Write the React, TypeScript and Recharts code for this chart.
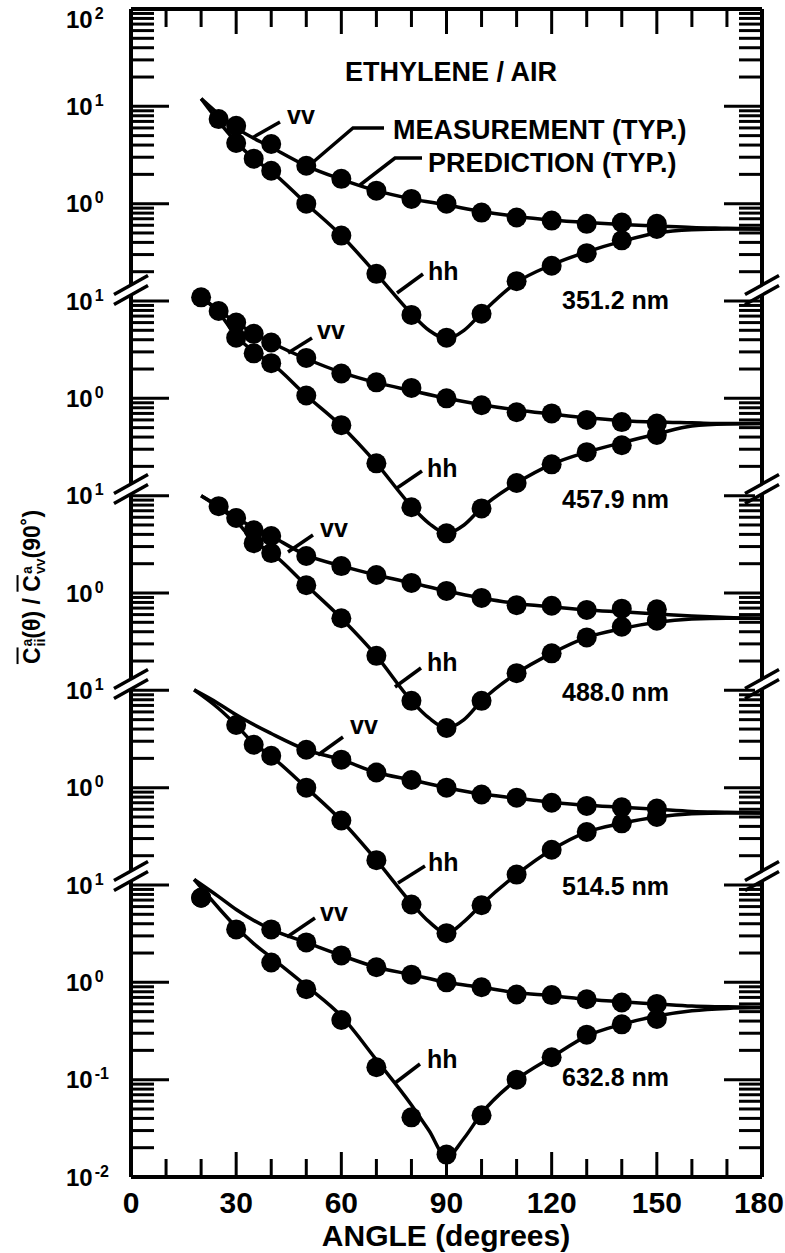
import React from "react";
import { ComposedChart, Line, XAxis, YAxis, ReferenceLine } from "recharts";

const FONT = '"Liberation Sans", Arial, Helvetica, sans-serif';
const W = 785;
const H = 1253;
const LEFT = 131;
const RIGHT = 762;
const TOP = 9;
const BOTTOM = 1177;
const PH = BOTTOM - TOP;
const LOG_MIN = -2;
const LOG_MAX = 10;

// x axis
const X_TICKS = [0, 10, 20, 30, 40, 50, 60, 70, 80, 90, 100, 110, 120, 130, 140, 150, 160, 170, 180];

// y axis: one log axis, every panel shifted two decades, labels relabelled per panel
const DECADE_LABELS = ["-2", "-1", "0", "1", "0", "1", "0", "1", "0", "1", "0", "1", "2"];
const Y_TICKS: number[] = [];
for (let n = LOG_MIN; n < LOG_MAX; n++) {
  for (let k = 1; k <= 9; k++) Y_TICKS.push(Number((k * Math.pow(10, n)).toPrecision(3)));
}
Y_TICKS.push(Math.pow(10, LOG_MAX));

const PANEL_SHIFT = [1e8, 1e6, 1e4, 1e2, 1];
const WAVELENGTHS = ["351.2 nm", "457.9 nm", "488.0 nm", "514.5 nm", "632.8 nm"];

// prediction angle grids
const VV_PRED_ANGLE = [20, 25, 30, 40, 50, 60, 70, 80, 90, 100, 110, 120, 130, 140, 150, 160, 170, 180];
const VV_PRED_ANGLE_B = [18, 25, 30, 40, 50, 60, 70, 80, 90, 100, 110, 120, 130, 140, 150, 160, 170, 180];
const HH_PRED_ANGLE = [20, 25, 30, 35, 40, 50, 60, 70, 80, 85, 90, 95, 100, 110, 120, 130, 140, 150, 160, 170, 180];
const HH_PRED_ANGLE_B = [18, 25, 30, 35, 40, 50, 60, 70, 80, 85, 90, 95, 100, 110, 120, 130, 140, 150, 160, 170, 180];

// 351.2 nm
const P1_VV_PRED = [12, 8.3, 6.0, 3.8, 2.45, 1.78, 1.36, 1.12, 0.97, 0.83, 0.74, 0.68, 0.64, 0.61, 0.59, 0.57, 0.56, 0.55];
const P1_HH_PRED = [12, 7.0, 4.3, 2.9, 2.15, 1.0, 0.47, 0.19, 0.074, 0.05, 0.041, 0.05, 0.075, 0.155, 0.235, 0.32, 0.41, 0.5, 0.54, 0.55, 0.55];
const P1_VV_ANGLE = [25, 30, 40, 50, 60, 70, 80, 90, 100, 110, 120, 130, 140, 150];
const P1_VV = [7.4, 6.3, 4.1, 2.45, 1.8, 1.36, 1.12, 1.0, 0.81, 0.72, 0.67, 0.62, 0.64, 0.62];
const P1_HH_ANGLE = [30, 35, 40, 50, 60, 70, 80, 90, 100, 110, 120, 130, 140, 150];
const P1_HH = [4.2, 2.9, 2.18, 1.0, 0.47, 0.19, 0.072, 0.042, 0.074, 0.16, 0.23, 0.31, 0.42, 0.55];

// 457.9 nm
const P2_VV_PRED = [11, 8.0, 6.0, 3.75, 2.55, 1.85, 1.45, 1.2, 1.0, 0.86, 0.76, 0.69, 0.63, 0.59, 0.57, 0.56, 0.55, 0.55];
const P2_HH_PRED = [11, 7.6, 4.4, 3.0, 2.3, 1.07, 0.52, 0.215, 0.078, 0.052, 0.041, 0.05, 0.075, 0.135, 0.21, 0.28, 0.35, 0.43, 0.52, 0.545, 0.55];
const P2_VV_ANGLE = [20, 25, 30, 35, 40, 50, 60, 70, 80, 90, 100, 110, 120, 130, 140, 150];
const P2_VV = [10.9, 7.9, 6.0, 4.6, 3.75, 2.6, 1.8, 1.46, 1.28, 1.0, 0.85, 0.72, 0.7, 0.6, 0.57, 0.55];
const P2_HH_ANGLE = [30, 35, 40, 50, 60, 70, 80, 90, 100, 110, 120, 130, 140, 150];
const P2_HH = [4.2, 2.9, 2.3, 1.07, 0.53, 0.215, 0.076, 0.041, 0.074, 0.135, 0.21, 0.28, 0.33, 0.42];

// 488.0 nm
const P3_VV_PRED = [10, 7.8, 5.9, 3.85, 2.45, 1.9, 1.53, 1.27, 1.05, 0.89, 0.78, 0.72, 0.67, 0.64, 0.61, 0.58, 0.56, 0.55];
const P3_HH_PRED = [10, 7.6, 5.5, 3.4, 2.6, 1.2, 0.55, 0.226, 0.078, 0.052, 0.041, 0.05, 0.078, 0.15, 0.24, 0.35, 0.43, 0.5, 0.54, 0.55, 0.55];
const P3_VV_ANGLE = [25, 30, 35, 40, 50, 60, 70, 80, 90, 100, 110, 120, 130, 140, 150];
const P3_VV = [7.8, 5.9, 4.4, 3.85, 2.4, 1.89, 1.53, 1.27, 1.05, 0.89, 0.75, 0.74, 0.67, 0.69, 0.68];
const P3_HH_ANGLE = [35, 40, 50, 60, 70, 80, 90, 100, 110, 120, 130, 140, 150];
const P3_HH = [3.25, 2.57, 1.2, 0.55, 0.226, 0.078, 0.041, 0.078, 0.15, 0.24, 0.35, 0.45, 0.52];

// 514.5 nm
const P4_VV_PRED = [10.1, 7.3, 5.6, 3.6, 2.45, 1.94, 1.43, 1.2, 1.0, 0.86, 0.78, 0.71, 0.66, 0.63, 0.6, 0.57, 0.56, 0.55];
const P4_HH_PRED = [10.1, 6.5, 4.4, 2.85, 2.1, 1.0, 0.46, 0.18, 0.065, 0.042, 0.032, 0.042, 0.063, 0.128, 0.23, 0.35, 0.43, 0.5, 0.54, 0.55, 0.55];
const P4_VV_ANGLE = [50, 60, 70, 80, 90, 100, 110, 120, 130, 140, 150];
const P4_VV = [2.45, 1.94, 1.43, 1.2, 1.0, 0.85, 0.79, 0.7, 0.65, 0.63, 0.61];
const P4_HH_ANGLE = [30, 35, 40, 50, 60, 70, 80, 90, 100, 110, 120, 130, 140, 150];
const P4_HH = [4.4, 2.76, 2.13, 1.0, 0.46, 0.18, 0.063, 0.032, 0.062, 0.128, 0.23, 0.35, 0.43, 0.5];

// 632.8 nm
const P5_VV_PRED = [11.4, 7.6, 5.6, 3.5, 2.57, 1.89, 1.43, 1.2, 1.0, 0.89, 0.78, 0.73, 0.67, 0.63, 0.6, 0.57, 0.56, 0.55];
const P5_HH_PRED = [11.4, 5.8, 3.7, 2.5, 1.8, 0.92, 0.45, 0.16, 0.055, 0.03, 0.016, 0.025, 0.045, 0.1, 0.17, 0.28, 0.37, 0.45, 0.51, 0.54, 0.55];
const P5_VV_ANGLE = [20, 40, 50, 60, 70, 80, 90, 100, 110, 120, 130, 140, 150];
const P5_VV = [7.4, 3.5, 2.57, 1.89, 1.43, 1.2, 1.0, 0.89, 0.75, 0.74, 0.67, 0.62, 0.6];
const P5_HH_ANGLE = [20, 30, 40, 50, 60, 70, 80, 90, 100, 110, 120, 130, 140, 150];
const P5_HH = [7.4, 3.5, 1.6, 0.85, 0.41, 0.134, 0.041, 0.017, 0.043, 0.1, 0.17, 0.29, 0.37, 0.42];

const panels = [
  { vvPA: VV_PRED_ANGLE, vvP: P1_VV_PRED, hhPA: HH_PRED_ANGLE, hhP: P1_HH_PRED, vvA: P1_VV_ANGLE, vv: P1_VV, hhA: P1_HH_ANGLE, hh: P1_HH },
  { vvPA: VV_PRED_ANGLE, vvP: P2_VV_PRED, hhPA: HH_PRED_ANGLE, hhP: P2_HH_PRED, vvA: P2_VV_ANGLE, vv: P2_VV, hhA: P2_HH_ANGLE, hh: P2_HH },
  { vvPA: VV_PRED_ANGLE, vvP: P3_VV_PRED, hhPA: HH_PRED_ANGLE, hhP: P3_HH_PRED, vvA: P3_VV_ANGLE, vv: P3_VV, hhA: P3_HH_ANGLE, hh: P3_HH },
  { vvPA: VV_PRED_ANGLE_B, vvP: P4_VV_PRED, hhPA: HH_PRED_ANGLE_B, hhP: P4_HH_PRED, vvA: P4_VV_ANGLE, vv: P4_VV, hhA: P4_HH_ANGLE, hh: P4_HH },
  { vvPA: VV_PRED_ANGLE_B, vvP: P5_VV_PRED, hhPA: HH_PRED_ANGLE_B, hhP: P5_HH_PRED, vvA: P5_VV_ANGLE, vv: P5_VV, hhA: P5_HH_ANGLE, hh: P5_HH },
];

const pts = (angles: number[], vals: number[], shift: number) =>
  angles.map((a, i) => ({ a, v: vals[i] * shift }));

const isMajor = (v: number) => {
  const e = Math.floor(Math.log10(v) + 1e-9);
  return Math.abs(v / Math.pow(10, e) - 1) < 1e-6;
};

// same mapping as the log y axis (domain 1e-2..1e10 over the plot height)
const yPix = (v: number) => TOP + ((LOG_MAX - Math.log10(v)) / (LOG_MAX - LOG_MIN)) * PH;

// annotation positions (pixels)
const BREAK_Y = [290, 489, 684, 876];
const NM_Y = [300, 499, 692, 886, 1077];
const VV_LABELS = [
  { tx: 287, ty: 124, l: [252, 138, 280, 122] },
  { tx: 317, ty: 339, l: [288, 353, 312, 338] },
  { tx: 320, ty: 537, l: [288, 552, 313, 535] },
  { tx: 350, ty: 734, l: [318, 755, 343, 737] },
  { tx: 320, ty: 921, l: [287, 937, 315, 918] },
];
const HH_LABELS = [
  { tx: 428, ty: 280, l: [397, 293, 423, 274] },
  { tx: 427, ty: 477, l: [397, 488, 422, 471] },
  { tx: 427, ty: 671, l: [395, 687, 421, 668] },
  { tx: 428, ty: 871, l: [398, 883, 425, 866] },
  { tx: 427, ty: 1068, l: [395, 1083, 420, 1064] },
];

const YTick = (props: any) => {
  const { x, y, payload } = props;
  const v = payload.value as number;
  if (!isMajor(v)) return <g />;
  const e = Math.floor(Math.log10(v) + 1e-9);
  const ly = Math.max(Number(y), 19);
  return (
    <text x={Number(x) - 65} y={ly + 8.5} fontFamily={FONT} fontSize={24} fontWeight="bold" fill="#000">
      10
      <tspan dx={2} dy={-9} fontSize={16}>
        {DECADE_LABELS[e + 2]}
      </tspan>
    </text>
  );
};

const XTick = (props: any) => {
  const { x, y, payload } = props;
  const v = payload.value as number;
  const major = v % 30 === 0;
  const len = major ? 25 : 18;
  const edge = v === 0 || v === 180;
  return (
    <g>
      {!edge && <line x1={x} x2={x} y1={y} y2={y - len} stroke="#000" strokeWidth={3} />}
      {!edge && <line x1={x} x2={x} y1={y - PH} y2={y - PH + len} stroke="#000" strokeWidth={3} />}
      {major && (
        <text
          x={v === 180 ? x + 22 : x}
          y={y + 36}
          textAnchor={v === 180 ? "end" : "middle"}
          fontFamily={FONT}
          fontSize={30}
          fontWeight="bold"
          fill="#000"
        >
          {v}
        </text>
      )}
    </g>
  );
};

const BreakMark = ({ cx, cy }: { cx: number; cy: number }) => {
  const s = (dy: number) => (
    <line x1={cx - 17} y1={cy + dy + 9.5} x2={cx + 17} y2={cy + dy - 9.5} stroke="#000" strokeWidth={3.5} />
  );
  return (
    <g>
      <polygon
        points={`${cx - 7},${cy - 5 + 3.9} ${cx + 7},${cy - 5 - 3.9} ${cx + 7},${cy + 5 - 3.9} ${cx - 7},${cy + 5 + 3.9}`}
        fill="#fff"
      />
      {s(-5)}
      {s(5)}
    </g>
  );
};

const txt = { fontFamily: FONT, fontWeight: "bold" as const, fill: "#000" };

const App = () => (
  <div style={{ position: "absolute", left: 0, top: 0, width: W, height: H, background: "#fff" }}>
    <ComposedChart width={W} height={H} margin={{ top: TOP, right: W - RIGHT, bottom: 16, left: 31 }}>
      <XAxis
        type="number"
        dataKey="a"
        domain={[0, 180]}
        ticks={X_TICKS}
        interval={0}
        height={60}
        tickSize={0}
        tickMargin={0}
        tickLine={false}
        axisLine={{ stroke: "#000", strokeWidth: 4 }}
        tick={(p: any) => <XTick {...p} />}
        allowDataOverflow
      />
      <YAxis
        type="number"
        scale="log"
        domain={[Math.pow(10, LOG_MIN), Math.pow(10, LOG_MAX)]}
        ticks={[...Y_TICKS]}
        interval={0}
        width={100}
        tickSize={0}
        tickMargin={0}
        tickLine={false}
        axisLine={{ stroke: "#000", strokeWidth: 4 }}
        tick={(p: any) => <YTick {...p} />}
        allowDataOverflow
      />
      <ReferenceLine y={Math.pow(10, LOG_MAX)} stroke="#000" strokeWidth={4} />
      <ReferenceLine x={180} stroke="#000" strokeWidth={4} />
      {panels.map((p, i) => {
        const sh = PANEL_SHIFT[i];
        return (
          <React.Fragment key={i}>
            <Line data={pts(p.vvPA, p.vvP, sh)} dataKey="v" type="monotone" stroke="#000" strokeWidth={3.5}
              dot={false} activeDot={false} isAnimationActive={false} />
            <Line data={pts(p.hhPA, p.hhP, sh)} dataKey="v" type="monotone" stroke="#000" strokeWidth={3.5}
              dot={false} activeDot={false} isAnimationActive={false} />
            <Line data={pts(p.vvA, p.vv, sh)} dataKey="v" stroke="none" strokeWidth={0}
              dot={{ r: 10, fill: "#000", stroke: "none" }} activeDot={false} isAnimationActive={false} />
            <Line data={pts(p.hhA, p.hh, sh)} dataKey="v" stroke="none" strokeWidth={0}
              dot={{ r: 10, fill: "#000", stroke: "none" }} activeDot={false} isAnimationActive={false} />
          </React.Fragment>
        );
      })}
    </ComposedChart>

    <svg width={W} height={H} style={{ position: "absolute", left: 0, top: 0 }}>
      {/* inner ticks on the left and right frame */}
      {Y_TICKS.map((v) => {
        const len = isMajor(v) ? 38 : 23;
        const y = yPix(v);
        return (
          <g key={v}>
            <line x1={LEFT} x2={LEFT + len} y1={y} y2={y} stroke="#000" strokeWidth={3} />
            <line x1={RIGHT} x2={RIGHT - len} y1={y} y2={y} stroke="#000" strokeWidth={3} />
          </g>
        );
      })}
      {BREAK_Y.map((y, i) => (
        <g key={`b${i}`}>
          <BreakMark cx={LEFT} cy={y} />
          <BreakMark cx={RIGHT} cy={y} />
        </g>
      ))}
      <text x={451} y={81} textAnchor="middle" fontSize={27} {...txt}>ETHYLENE / AIR</text>
      <text x={393} y={139} fontSize={27} {...txt}>MEASUREMENT (TYP.)</text>
      <text x={428} y={172} fontSize={27} {...txt}>PREDICTION (TYP.)</text>
      <polyline points="312,163 353,128 384,128" fill="none" stroke="#000" strokeWidth={3.5} />
      <polyline points="360,185 395,158 422,158" fill="none" stroke="#000" strokeWidth={3.5} />
      {VV_LABELS.map((d, i) => (
        <g key={`vv${i}`}>
          <line x1={d.l[0]} y1={d.l[1]} x2={d.l[2]} y2={d.l[3]} stroke="#000" strokeWidth={3.5} />
          <text x={d.tx} y={d.ty} fontSize={25} {...txt}>vv</text>
        </g>
      ))}
      {HH_LABELS.map((d, i) => (
        <g key={`hh${i}`}>
          <line x1={d.l[0]} y1={d.l[1]} x2={d.l[2]} y2={d.l[3]} stroke="#000" strokeWidth={3.5} />
          <text x={d.tx} y={d.ty} fontSize={25} {...txt}>hh</text>
        </g>
      ))}
      {WAVELENGTHS.map((w, i) => (
        <text key={w} x={562} y={NM_Y[i] + 9} fontSize={25} {...txt}>{w}</text>
      ))}
      <text x={446} y={1246} textAnchor="middle" fontSize={30} {...txt}>ANGLE (degrees)</text>
    </svg>

    <div
      style={{
        position: "absolute",
        left: 32,
        top: 587,
        transform: "translate(-50%, -50%) rotate(-90deg)",
        whiteSpace: "nowrap",
        fontFamily: FONT,
        fontWeight: "bold",
        fontSize: 23,
        lineHeight: "28px",
        color: "#000",
      }}
    >
      <span style={{ textDecoration: "overline" }}>C</span>
      <span style={{ display: "inline-flex", flexDirection: "column", fontSize: 14, lineHeight: "13px", verticalAlign: "middle", marginLeft: 1 }}>
        <span>a</span>
        <span>ii</span>
      </span>
      (θ) / <span style={{ textDecoration: "overline" }}>C</span>
      <span style={{ display: "inline-flex", flexDirection: "column", fontSize: 14, lineHeight: "13px", verticalAlign: "middle", marginLeft: 1 }}>
        <span>a</span>
        <span>vv</span>
      </span>
      (90˚)
    </div>
  </div>
);

export default App;
